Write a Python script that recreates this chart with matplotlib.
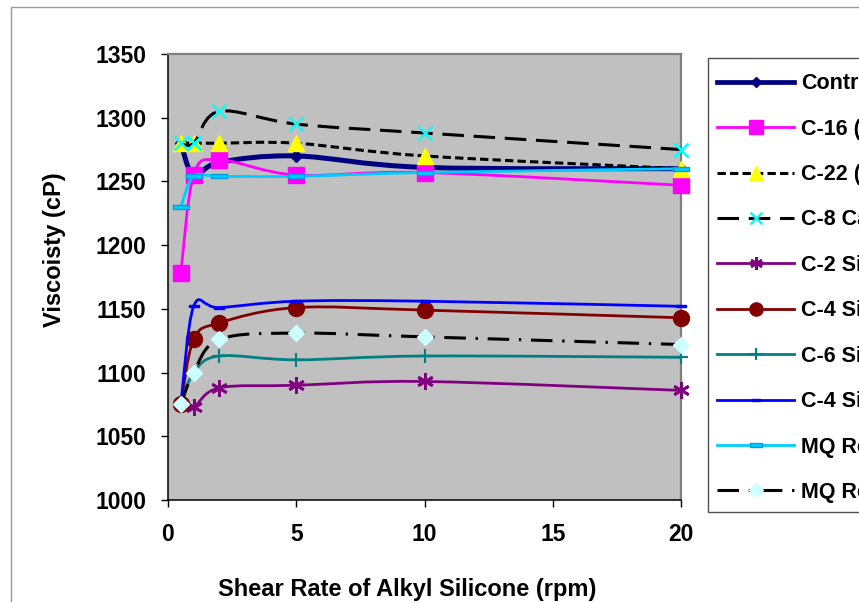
import numpy as np
import matplotlib
matplotlib.use('Agg')
from matplotlib import pyplot as plt
from matplotlib.path import Path
from matplotlib.patches import PathPatch, Rectangle
from matplotlib.lines import Line2D

plt.rcParams['font.family'] = ['Liberation Sans', 'DejaVu Sans']
plt.rcParams['font.weight'] = 'bold'
plt.rcParams['lines.scale_dashes'] = False

# data
shear_rate = [0.5, 1, 2, 5, 10, 20]
control = [1280, 1255, 1265, 1270, 1261, 1260]
c16 = [1178, 1255, 1267, 1255, 1257, 1247]
c22 = [1280, 1280, 1280, 1280, 1270, 1260]
c8 = [1280, 1280, 1305, 1295, 1288, 1275]
c2s = [1075, 1073, 1088, 1090, 1093, 1086]
c4s = [1075, 1126, 1139, 1151, 1149, 1143]
c6s = [1075, 1100, 1113, 1110, 1113, 1112]
c4s_b = [1075, 1152, 1151, 1156, 1156, 1152]
mq_r = [1230, 1254, 1254, 1254, 1257, 1260]
mq_r2 = [1075, 1100, 1126, 1131, 1128, 1122]

labels = ['Control', 'C-16 (Cetyl Silicone)', 'C-22 (Behenyl Silicone)',
          'C-8 Caprylyl Silicone', 'C-2 Silicone', 'C-4 Silicone',
          'C-6 Silicone', 'C-4 Silicone (B)', 'MQ Resin', 'MQ Resin (B)']
x_ticks = [0, 5, 10, 15, 20]
y_ticks = [1000, 1050, 1100, 1150, 1200, 1250, 1300, 1350]

W, H = 859, 602


def fx(px):
    return px / W


def fy(py):
    return 1 - py / H


# flat dash marker like excel
dash_m = Path([(-1, -0.3), (1, -0.3), (1, 0.3), (-1, 0.3), (-1, -0.3)],
              [Path.MOVETO, Path.LINETO, Path.LINETO, Path.LINETO, Path.CLOSEPOLY])
dash_s = Path([(-1, -0.22), (1, -0.22), (1, 0.22), (-1, 0.22), (-1, -0.22)],
              [Path.MOVETO, Path.LINETO, Path.LINETO, Path.LINETO, Path.CLOSEPOLY])

short_dash = (0, (6, 3))
long_dash = (0, (15.5, 7))
dash_dot = (0, (15.5, 7, 1.7, 7))

# (values, line color, lw, linestyle, marker, marker size, face, edge, mew, legend ms)
series = [
    (control, '#000080', 3.6, '-', 'D', 6.5, '#000080', '#000080', 1, 5),
    (c16, '#FF00FF', 2, '-', 's', 12, '#FF00FF', '#FF00FF', 1, 9.5),
    (c22, 'black', 2.2, short_dash, '^', 11.5, '#FFFF00', '#FFFF00', 1, 9.5),
    (c8, 'black', 2.2, long_dash, 'x', 10.5, '#00FFFF', '#00FFFF', 1.8, 8),
    (c2s, '#800080', 2, '-', (6, 2, 0), 12, '#800080', '#800080', 2, 9),
    (c4s, '#800000', 2, '-', 'o', 11.5, '#800000', '#800000', 1, 9.5),
    (c6s, '#008080', 2, '-', '+', 10, '#008080', '#008080', 1.5, 8),
    (c4s_b, '#0000FF', 2, '-', dash_s, 7.5, '#0000FF', '#0000FF', 1, 6),
    (mq_r, '#00CCFF', 2, '-', dash_m, 11, '#00CCFF', '#00A0E0', 1, 8.5),
    (mq_r2, 'black', 2.2, dash_dot, 'D', 8, '#CCFFFF', '#CCFFFF', 1, 7),
]


def smooth_path(x, y):
    # bezier segments like excel's smoothed line
    pts = np.column_stack([x, y]).astype(float)
    n = len(pts)
    verts = [pts[0]]
    codes = [Path.MOVETO]
    for i in range(n - 1):
        p0 = pts[i - 1] if i > 0 else pts[i]
        p1 = pts[i]
        p2 = pts[i + 1]
        p3 = pts[i + 2] if i + 2 < n else pts[i + 1]
        verts += [p1 + (p2 - p0) / 6, p2 - (p3 - p1) / 6, p2]
        codes += [Path.CURVE4] * 3
    return Path(verts, codes)


fig = plt.figure(figsize=(W / 100, H / 100), dpi=100)
ax = fig.add_axes([fx(168), fy(500), fx(681) - fx(168), fy(54) - fy(500)])
ax.set_facecolor('#C0C0C0')

for k, (vals, lc, lw, ls, mk, ms, mfc, mec, mew, lms) in enumerate(series):
    patch = PathPatch(smooth_path(shear_rate, vals), facecolor='none', edgecolor=lc,
                      lw=lw, linestyle=ls, zorder=2 + 2 * k)
    ax.add_patch(patch)
    ax.plot(shear_rate, vals, linestyle='none', marker=mk, markersize=ms,
            markerfacecolor=mfc, markeredgecolor=mec, markeredgewidth=mew,
            zorder=3 + 2 * k, clip_on=False)

ax.set_xlim(0, 20)
ax.set_ylim(1000, 1350)
ax.set_xticks(x_ticks)
ax.set_yticks(y_ticks)
ax.tick_params(axis='both', direction='out', length=4.7, width=1, labelsize=16.5, color='black')
ax.tick_params(axis='y', pad=10.8)
ax.tick_params(axis='x', pad=12)
for lab in ax.get_xticklabels() + ax.get_yticklabels():
    lab.set_fontweight('bold')
for s in ['left', 'bottom']:
    ax.spines[s].set_color('black')
    ax.spines[s].set_linewidth(1.1)
for s in ['top', 'right']:
    ax.spines[s].set_color('#808080')
    ax.spines[s].set_linewidth(1.6)

fig.text(fx(407), fy(596), 'Shear Rate of Alkyl Silicone (rpm)', ha='center', va='baseline',
         fontsize=17, fontweight='bold')
fig.text(fx(55), fy(250), 'Viscoisty (cP)', rotation=90, ha='center', va='center',
         fontsize=17, fontweight='bold')

# outer chart border
fig.add_artist(Rectangle((fx(10.5), -0.1), 2, fy(6.5) + 0.1, transform=fig.transFigure,
                         facecolor='none', edgecolor='#999999', lw=1))

# legend, drawn by hand (runs past the right edge like the original)
fig.add_artist(Rectangle((fx(707.5), fy(512)), 2, fy(58) - fy(512), transform=fig.transFigure,
                         facecolor='white', edgecolor='#505050', lw=1, zorder=5))
row0, step = 81.7, 45.4
for k, (vals, lc, lw, ls, mk, ms, mfc, mec, mew, lms) in enumerate(series):
    yy = row0 + k * step
    ln = Line2D([fx(717), fx(755.5), fx(794)], [fy(yy)] * 3, transform=fig.transFigure,
                color=lc, lw=lw if k else 3.4, linestyle=ls, marker=mk, markevery=[1],
                markersize=lms, markerfacecolor=mfc, markeredgecolor=mec,
                markeredgewidth=mew, zorder=6)
    fig.add_artist(ln)
    fig.text(fx(801), fy(yy + 7.6), labels[k], ha='left', va='baseline', fontsize=15.5,
             fontweight='bold', zorder=7)

fig.savefig('out.png', dpi=100)
